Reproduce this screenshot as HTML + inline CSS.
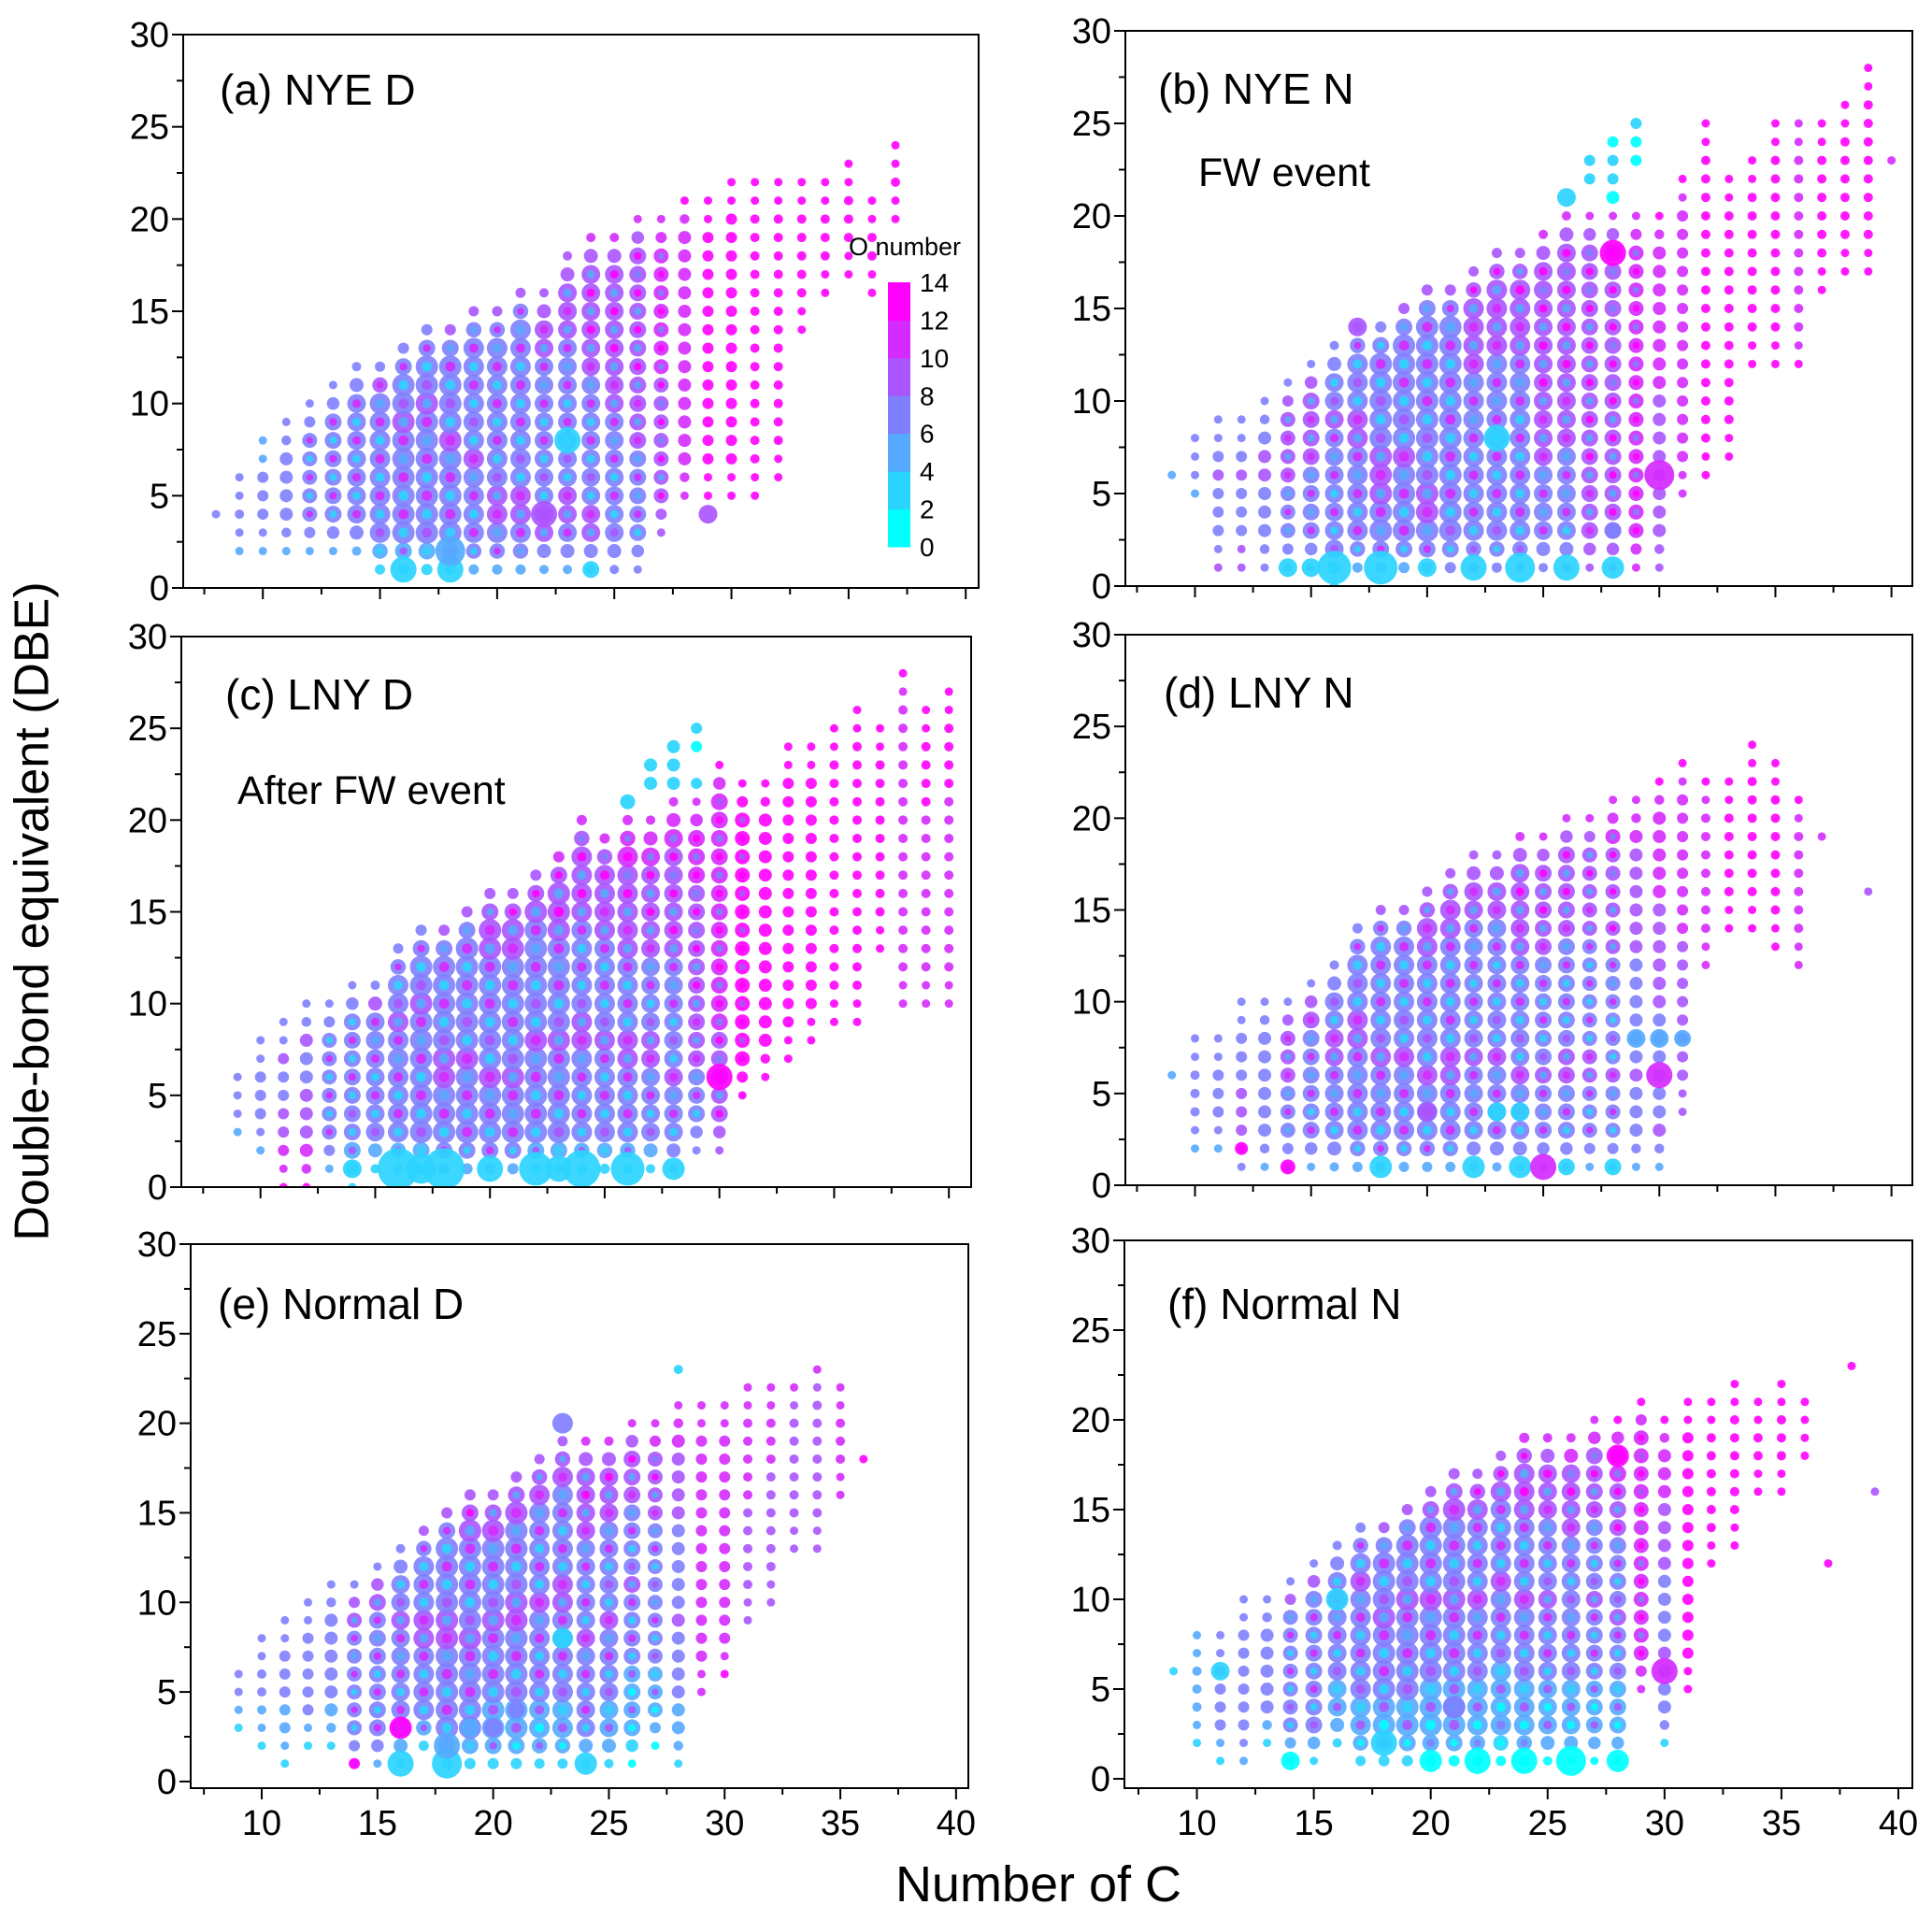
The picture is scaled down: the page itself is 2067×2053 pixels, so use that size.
<!DOCTYPE html>
<html><head><meta charset="utf-8"><style>
html,body{margin:0;padding:0;background:#fff;}
svg{display:block;font-family:"Liberation Sans",Arial,sans-serif;}
</style></head><body>
<svg id="fig" width="2067" height="2053" viewBox="0 0 2067 2053" xmlns="http://www.w3.org/2000/svg">
<rect width="2067" height="2053" fill="#fff"/>
<text x="38" y="975" font-size="52" text-anchor="middle" transform="rotate(-90 38 975)" dominant-baseline="middle">Double-bond equivalent (DBE)</text>
<text x="1111" y="2034" font-size="54" text-anchor="middle">Number of C</text>
</svg>
<script>
// ---- Panel (a) NYE D ----
const aC=[8,9,10,11,12,13,14,15,16,17,18,19,20,21,22,23,24,25,26,27,28,29,30,31,32,33,34,35,36,37];
const aLo=[4,2,2,2,2,2,2,1,1,1,1,1,1,1,1,1,1,1,1,3,5,5,5,5,6,14,16,17,16,20];
const aHi=[4,6,8,9,10,11,12,12,13,14,14,15,15,16,16,18,19,19,20,20,21,21,22,22,22,22,22,23,21,24];
const aR=[5,5,6,7,8,9,10,11,12,12,12,11,11,11,10,10,10,10,9,8,7,6,6,5,5,5,5,5,5,5];
const aOLo=[6,5,5,5,4,4,4,3,3,3,3,4,5,5,5,5,5,6,7,9,11,12,12,12,12,13,13,12,12,12];
const aOHi=[6,4,3,4,4,5,5,6,7,7,8,8,8,8,9,9,10,10,10,11,12,13,13,13,13,13,13,12,12,12];
const aBig=[[16,1,14,2],[18,1,14,2],[18,2,16,4],[23,8,14,2],[22,4,14,9],[29,4,10,9],[24,1,9,2]];
// ---- Panel (b) NYE N ----
const bC=[9,10,11,12,13,14,15,16,17,18,19,20,21,22,23,24,25,26,27,28,29,30,31,32,33,34,35,36,37,38,39,40];
const bLo=[6,5,1,1,1,1,1,0,1,1,1,1,1,1,1,1,1,1,1,1,1,1,5,6,7,12,12,12,16,17,17,23];
const bHi=[6,8,9,9,10,11,12,13,14,14,15,16,16,17,18,18,19,20,20,20,20,20,22,25,22,23,25,25,25,26,28,23];
const bR=[5,6,6,6,7,8,9,10,11,12,12,12,12,11,11,11,10,10,9,9,8,7,6,5,5,5,5,5,5,5,5,5];
const bOLo=[4,4,8,9,7,5,5,3,4,5,4,5,6,6,6,6,7,7,8,9,10,8,11,12,12,12,12,12,12,12,12,10];
const bOHi=[4,4,4,4,5,6,6,7,7,7,8,8,8,9,9,9,10,10,10,10,10,12,12,12,12,12,12,11,12,12,12,10];
const bBig=[[16,1,18,2],[18,1,18,2],[22,1,14,3],[24,1,16,2],[26,1,14,2],[28,1,12,2],[14,1,10,3],[15,1,10,2],[20,1,10,2],[30,6,16,11],[28,18,14,12],[23,8,14,3],[17,14,10,9],[26,21,10,3],[28,3,9,7],[27,22,6,2],[27,23,6,2],[28,21,7,1],[28,22,6,2],[28,23,6,2],[28,24,6,1],[29,23,6,1],[29,24,6,1],[29,25,6,2]];
// ---- Panel (c) LNY D ----
const cC=[9,10,11,12,13,14,15,16,17,18,19,20,21,22,23,24,25,26,27,28,29,30,31,32,33,34,35,36,37,38,39,40];
const cLo=[3,2,0,0,1,0,1,1,1,1,1,1,1,1,1,1,1,1,1,1,2,2,5,6,7,8,9,9,13,10,10,10];
const cHi=[6,8,9,10,10,11,11,13,14,14,15,16,16,17,18,20,19,20,20,21,21,23,22,22,24,24,25,26,25,28,26,27];
const cR=[5,6,6,7,8,9,10,11,12,12,12,12,12,12,12,11,11,11,10,10,9,9,8,7,6,6,5,5,5,5,5,5];
const cOLo=[5,5,12,12,4,3,3,3,3,4,4,4,4,3,3,3,3,3,3,4,7,9,12,12,12,12,12,12,12,10,10,10];
const cOHi=[5,5,4,4,4,5,6,7,7,8,8,9,9,9,10,10,10,11,11,11,11,12,12,13,13,13,13,13,13,12,13,13];
const cBig=[[16,1,22,3],[17,1,16,3],[18,1,22,3],[20,1,14,3],[22,1,18,3],[23,1,14,3],[24,1,20,3],[26,1,18,3],[28,1,12,3],[14,1,10,3],[30,6,14,13],[26,21,8,2],[27,22,7,2],[27,23,7,2],[28,22,7,2],[28,23,7,2],[28,24,7,2],[29,22,6,2],[29,24,6,1],[29,25,6,2]];
// ---- Panel (d) LNY N ----
const dC=[9,10,11,12,13,14,15,16,17,18,19,20,21,22,23,24,25,26,27,28,29,30,31,32,33,34,35,36,37,39];
const dLo=[6,2,2,1,1,1,1,1,1,1,1,1,1,1,1,1,1,1,1,1,1,1,4,12,14,14,13,12,19,16];
const dHi=[6,8,8,10,10,10,11,12,14,15,15,16,17,18,18,19,19,20,20,21,21,22,23,22,22,24,23,21,19,16];
const dR=[5,5,6,6,7,8,9,10,11,11,11,11,11,10,10,10,9,9,8,8,7,7,6,5,5,5,5,5,5,5];
const dOLo=[4,4,4,6,5,5,4,4,4,4,4,4,4,4,4,4,4,4,4,4,4,5,8,11,12,12,12,11,11,9];
const dOHi=[4,5,5,5,5,6,6,7,7,8,8,9,9,9,9,10,10,10,10,11,11,12,12,12,12,12,12,12,11,9];
const dBig=[[18,1,12,3],[22,1,12,2],[24,1,12,2],[25,1,14,10],[26,1,9,3],[28,1,9,3],[30,6,14,11],[29,8,10,4],[30,8,10,4],[31,8,9,4],[20,4,10,8],[23,4,10,3],[24,4,10,3],[12,2,7,12],[14,1,8,12]];
// ---- Panel (e) Normal D ----
const eC=[9,10,11,12,13,14,15,16,17,18,19,20,21,22,23,24,25,26,27,28,29,30,31,32,33,34,35,36];
const eLo=[3,2,1,2,2,1,1,1,2,1,1,1,1,1,1,1,1,1,2,1,5,6,9,10,13,13,16,18];
const eHi=[6,8,9,10,11,11,12,13,14,15,16,16,17,18,19,19,19,20,20,21,21,21,22,22,22,23,22,18];
const eR=[5,5,6,6,7,8,9,10,11,12,12,12,12,11,11,10,10,9,8,7,6,6,5,5,5,5,5,5];
const eOLo=[3,3,3,3,3,4,4,3,3,3,3,2,2,2,2,3,2,1,1,2,10,12,9,8,9,9,11,12];
const eOHi=[4,4,4,5,5,6,6,7,8,8,9,9,9,9,9,10,10,10,11,11,11,11,11,11,10,10,11,12];
const eBig=[[16,1,14,2],[18,1,16,2],[18,2,14,4],[16,3,12,13],[24,1,12,2],[23,20,11,6],[28,23,5,2],[20,3,10,6],[19,3,10,5],[21,4,9,7],[23,8,11,3],[14,1,6,13]];
// ---- Panel (f) Normal N ----
const fC=[9,10,11,12,13,14,15,16,17,18,19,20,21,22,23,24,25,26,27,28,29,30,31,32,33,34,35,36,37,38,39];
const fLo=[6,2,1,1,2,1,1,2,1,1,1,1,1,1,1,1,1,1,1,1,5,2,5,12,13,16,16,18,12,23,16];
const fHi=[6,8,8,10,10,11,12,13,14,14,15,16,17,17,18,19,19,19,20,20,21,20,21,21,22,21,22,21,12,23,16];
const fR=[5,5,6,6,7,8,9,10,11,12,12,12,12,11,11,11,10,10,9,9,8,7,6,5,5,5,5,5,5,5,5];
const fOLo=[3,3,3,4,3,3,3,2,2,2,2,1,1,1,1,1,1,1,1,1,11,3,12,12,12,12,12,12,12,12,8];
const fOHi=[3,3,5,5,5,6,6,7,7,8,8,9,9,9,9,10,10,11,11,12,12,12,12,12,12,12,12,12,12,12,8];
const fBig=[[18,2,14,3],[20,1,12,1],[22,1,14,1],[24,1,14,1],[26,1,16,1],[28,1,12,1],[14,1,10,1],[16,10,12,2],[30,6,14,11],[28,18,12,12],[21,4,12,6],[11,6,10,2]];

const yTicks=[0,5,10,15,20,25,30];
const xTicks=[10,15,20,25,30,35,40];
const cbLabels=[0,2,4,6,8,10,12,14];

const panels=[
 {id:'a',title:'(a) NYE D',tx:235,ty:112,L:196,R:1047,T:37,B:629,x0:6.6,x1:40.55,y0:0,y1:30,C:aC,lo:aLo,hi:aHi,r:aR,oLo:aOLo,oHi:aOHi,big:aBig,xl:false},
 {id:'b',title:'(b) NYE N',tx:1239,ty:111,L:1204,R:2046,T:33,B:627,x0:7.0,x1:40.9,y0:0,y1:30,C:bC,lo:bLo,hi:bHi,r:bR,oLo:bOLo,oHi:bOHi,big:bBig,xl:false,sub:'FW event',sx:1282,sy:199},
 {id:'c',title:'(c) LNY D',tx:241,ty:759,L:194,R:1039,T:681,B:1270,x0:6.55,x1:40.97,y0:0,y1:30,C:cC,lo:cLo,hi:cHi,r:cR,oLo:cOLo,oHi:cOHi,big:cBig,xl:false,sub:'After FW event',sx:254,sy:860},
 {id:'d',title:'(d) LNY N',tx:1245,ty:757,L:1204,R:2046,T:679,B:1268,x0:7.0,x1:40.9,y0:0,y1:30,C:dC,lo:dLo,hi:dHi,r:dR,oLo:dOLo,oHi:dOHi,big:dBig,xl:false},
 {id:'e',title:'(e) Normal D',tx:233,ty:1411,L:204,R:1036,T:1331,B:1913,x0:6.93,x1:40.53,y0:-0.37,y1:30,C:eC,lo:eLo,hi:eHi,r:eR,oLo:eOLo,oHi:eOHi,big:eBig,xl:true},
 {id:'f',title:'(f) Normal N',tx:1249,ty:1411,L:1203,R:2046,T:1327,B:1913,x0:6.9,x1:40.6,y0:-0.52,y1:30,C:fC,lo:fLo,hi:fHi,r:fR,oLo:fOLo,oHi:fOHi,big:fBig,xl:true}
];

const NS='http://www.w3.org/2000/svg';
const svg=document.getElementById('fig');
function mk(tag,attrs,parent){const e=document.createElementNS(NS,tag);for(const k in attrs)e.setAttribute(k,attrs[k]);(parent||svg).appendChild(e);return e;}
function oColor(o){let k=Math.floor(Math.max(0,Math.min(13.99,o))/2);const r=Math.round(k*42.5),g=255-r;return 'rgb('+r+','+g+',255)';}

const defs=mk('defs',{});
panels.forEach(p=>{
  const sx=v=>p.L+(v-p.x0)/(p.x1-p.x0)*(p.R-p.L);
  const sy=v=>p.B-(v-p.y0)/(p.y1-p.y0)*(p.B-p.T);
  const cp=mk('clipPath',{id:'clip-'+p.id},defs);
  mk('rect',{x:p.L,y:p.T,width:p.R-p.L,height:p.B-p.T},cp);
  const g=mk('g',{'clip-path':'url(#clip-'+p.id+')'});
  
  
  p.C.forEach((c,i)=>{
    const lo=p.lo[i],hi=p.hi[i];
    for(let d=lo;d<=hi;d++){
      const t=hi>lo?(d-lo)/(hi-lo):0;
      let o=p.oLo[i]+t*(p.oHi[i]-p.oLo[i]);
      if(d>1&&d>lo&&o<6)o+=2.5;
      const k=Math.min(d-lo,hi-d);
      const rr=Math.max(4.5,p.r[i]*Math.min(1,0.5+0.25*k));
      const pt=mk('circle',{cx:sx(c),cy:sy(d),r:rr,fill:oColor(o),'fill-opacity':0.9},g);
      
      
      if(rr>=8){
        const o2=((c+d)%2===0)?o+3.5:o-3.5;
        const inner=mk('circle',{cx:sx(c),cy:sy(d),r:rr*0.45,fill:oColor(o2),'fill-opacity':0.9},g);
        
        
      }
    }
  });
  p.big.forEach(b=>{
    const pt=mk('circle',{cx:sx(b[0]),cy:sy(b[1]),r:b[2],fill:oColor(b[3]),'fill-opacity':0.92},g);
    
    
  });
  const fr=mk('rect',{x:p.L,y:p.T,width:p.R-p.L,height:p.B-p.T,fill:'none',stroke:'#000','stroke-width':2});
  
  
  for(let v=0;v<=30;v+=2.5){
    const y=sy(v),maj=(v%5===0);
    mk('line',{x1:p.L-(maj?12:7),x2:p.L,y1:y,y2:y,stroke:'#000','stroke-width':2});
  }
  yTicks.forEach(v=>{
    const t=mk('text',{x:p.L-15,y:sy(v)+13,'font-size':38,'text-anchor':'end'});
    t.textContent=v;
    
    
  });
  for(let v=7.5;v<=40;v+=2.5){
    const x=sx(v),maj=(v%5===0);
    if(x<p.L||x>p.R+1)continue;
    mk('line',{x1:x,x2:x,y1:p.B,y2:p.B+(maj?12:7),stroke:'#000','stroke-width':2});
  }
  if(p.xl){
    xTicks.forEach(v=>{
      const t=mk('text',{x:sx(v),y:p.B+50,'font-size':38,'text-anchor':'middle'});
      t.textContent=v;
      
      
    });
  }
  const tt=mk('text',{x:p.tx,y:p.ty,'font-size':46});
  tt.textContent=p.title;
  
  
  if(p.sub){
    const st=mk('text',{x:p.sx,y:p.sy,'font-size':43});
    st.textContent=p.sub;
    
    
  }
});
const cb=mk('g',{});


const cbT=302,cbB=585,cbL=950,cbW=24;
for(let k=0;k<7;k++){
  const y1=cbB-(k+1)*(cbB-cbT)/7;
  mk('rect',{x:cbL,y:y1,width:cbW,height:(cbB-cbT)/7+0.5,fill:oColor(k*2+1)},cb);
}
cbLabels.forEach(v=>{
  const t=mk('text',{x:cbL+cbW+10,y:cbB-v/14*(cbB-cbT)+10,'font-size':28},cb);
  t.textContent=v;
  
  
});
const cbt=mk('text',{x:908,y:273,'font-size':27},cb);
cbt.textContent='O number';


</script>
</body></html>
